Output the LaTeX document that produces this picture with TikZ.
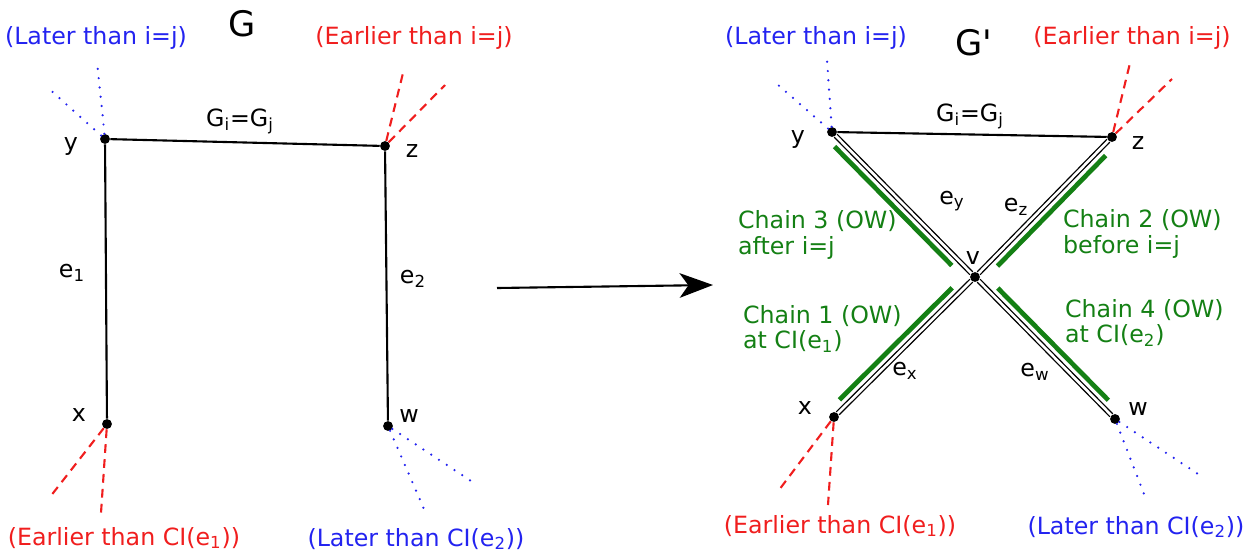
\documentclass[tikz,border=0pt]{standalone}
\usepackage{fontspec}
\setmainfont{DejaVu Sans}
\newfontfamily\titlefont{DejaVu Sans}
\usetikzlibrary{arrows.meta, calc}

\definecolor{chaingreen}{RGB}{20,128,20}
\definecolor{lateblue}{RGB}{35,35,240}
\definecolor{earlyred}{RGB}{240,30,30}

\newcommand{\sub}[1]{\textsubscript{#1}}

\begin{document}
\begin{tikzpicture}[
  x=0.02cm, y=-0.02cm,
  every node/.style={font=\fontsize{13.5}{14.5}\selectfont, inner sep=1pt},
  title/.style={font=\titlefont\fontsize{20}{22}\selectfont},
  dot/.style={circle, fill, inner sep=0pt, minimum size=5.6pt},
  edge/.style={line width=1.2pt},
  dedge/.style={double, double distance=1.5pt, line width=0.75pt},
  later/.style={draw=lateblue, line width=1.4pt, line cap=round, dash pattern=on 0pt off 5.3pt},
  earlier/.style={draw=earlyred, line width=1.2pt, dash pattern=on 5pt off 3.5pt},
  chain/.style={draw=chaingreen, line width=2.7pt},
  chaintext/.style={text=chaingreen, align=left, anchor=west}
]
\useasboundingbox (0,0) rectangle (1251,555);

% left graph G
\node[title] (tg) at (242,24) {G};
\node[text=lateblue] (ly) at (96,38) {(Later than i=j)};
\node[text=earlyred] (ez) at (414,38) {(Earlier than i=j)};
\node[dot] (y) at (105,139) {};
\node[dot] (z) at (385,146) {};
\node[dot] (x) at (107,424) {};
\node[dot] (w) at (388,426) {};
\node (ylab) at (71,146) {y};
\node (zlab) at (412,151) {z};
\node (xlab) at (79,415) {x};
\node (wlab) at (409,416) {w};
\node (gij) at (240,121) {G\sub{i}=G\sub{j}};
\node (e1) at (72,273) {e\sub{1}};
\node (e2) at (413,279) {e\sub{2}};
\node[text=earlyred] (ex) at (124,538) {(Earlier than CI(e\sub{1}))};
\node[text=lateblue] (lw) at (416,539) {(Later than CI(e\sub{2}))};

\coordinate (y1) at (97,62);
\coordinate (y2) at (47,87);
\coordinate (z1) at (404,69);
\coordinate (z2) at (445,85);
\coordinate (x1) at (50,497);
\coordinate (x2) at (101,513);
\coordinate (w1) at (424,509);
\coordinate (w2) at (471,481);

\draw[edge] (y) -- (z);
\draw[edge] (y) -- (x);
\draw[edge] (z) -- (w);
\draw[later] (y) -- (y1);
\draw[later] (y) -- (y2);
\draw[earlier] (z) -- (z1);
\draw[earlier] (z) -- (z2);
\draw[earlier] (x) -- (x1);
\draw[earlier] (x) -- (x2);
\draw[later] (w) -- (w1);
\draw[later] (w) -- (w2);

% transformation arrow
\coordinate (from) at (497,288);
\coordinate (to) at (713,285);
\draw[line width=1.2pt, -{Stealth[length=19pt, width=14pt, inset=5pt]}] (from) -- (to);

% right graph G'
\node[title] (tgp) at (974,43) {G'};
\node[text=lateblue] (lyp) at (816,38) {(Later than i=j)};
\node[text=earlyred] (ezp) at (1132,38) {(Earlier than i=j)};
\node[dot] (yp) at (832,132) {};
\node[dot] (zp) at (1112,137) {};
\node[dot] (xp) at (834,417) {};
\node[dot] (wp) at (1115,419) {};
\node[dot] (v) at (975,277) {};
\node (yplab) at (798,139) {y};
\node (zplab) at (1138,143) {z};
\node (xplab) at (805,408) {x};
\node (wplab) at (1138,409) {w};
\node (vlab) at (973,258) {v};
\node (gijp) at (970,116) {G\sub{i}=G\sub{j}};
\node (ey) at (952,201) {e\sub{y}};
\node (ez2) at (1016,207) {e\sub{z}};
\node (exl) at (905,371) {e\sub{x}};
\node (ew) at (1035,372) {e\sub{w}};
\node[chaintext] (c3) at (736,235) {Chain 3 (OW)\\after i=j};
\node[chaintext] (c2) at (1061,234) {Chain 2 (OW)\\before i=j};
\node[chaintext] (c1) at (741,329) {Chain 1 (OW)\\at CI(e\sub{1})};
\node[chaintext] (c4) at (1063,323) {Chain 4 (OW)\\at CI(e\sub{2})};
\node[text=earlyred] (exp) at (840,526) {(Earlier than CI(e\sub{1}))};
\node[text=lateblue] (lwp) at (1136,527) {(Later than CI(e\sub{2}))};

\coordinate (yp1) at (827,60);
\coordinate (yp2) at (777,84);
\coordinate (zp1) at (1130,63);
\coordinate (zp2) at (1172,79);
\coordinate (xp1) at (779,490);
\coordinate (xp2) at (828,505);
\coordinate (wp1) at (1146,499);
\coordinate (wp2) at (1201,476);

\draw[edge] (yp) -- (zp);
\foreach \a in {yp, zp, xp, wp}
  \draw[dedge] (\a) -- (v);
\draw[later] (yp) -- (yp1);
\draw[later] (yp) -- (yp2);
\draw[earlier] (zp) -- (zp1);
\draw[earlier] (zp) -- (zp2);
\draw[earlier] (xp) -- (xp1);
\draw[earlier] (xp) -- (xp2);
\draw[later] (wp) -- (wp1);
\draw[later] (wp) -- (wp2);

% chains beside the edges
\foreach \a/\s/\t/\r in {yp/0.06/0.88/-90, zp/0.09/0.88/90, xp/0.08/0.88/90, wp/0.09/0.88/-90}
  \draw[chain] ($(\a)!\s!(v)!4.8pt!\r:(v)$) -- ($(\a)!\t!(v)!4.8pt!\r:(v)$);
\end{tikzpicture}
\end{document}
